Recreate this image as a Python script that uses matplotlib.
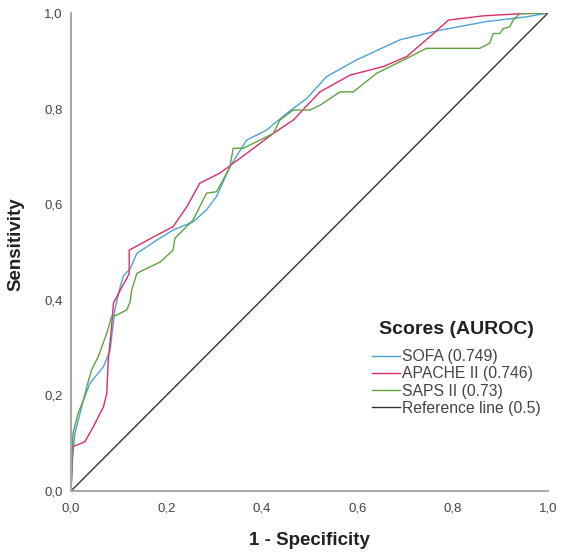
import matplotlib
matplotlib.use('Agg')
import matplotlib.pyplot as plt
from matplotlib.ticker import FuncFormatter

plt.rcParams['font.family'] = ['Liberation Sans', 'DejaVu Sans']

# ROC curve points (1 - specificity, sensitivity)
sofa_x = [0, 0.003, 0.008, 0.026, 0.04, 0.068, 0.082, 0.092, 0.103, 0.11,
          0.124, 0.138, 0.18, 0.214, 0.256, 0.284, 0.305, 0.333, 0.368,
          0.41, 0.452, 0.494, 0.536, 0.599, 0.69, 0.774, 0.871, 0.955, 1.0]
sofa_y = [0, 0.07, 0.12, 0.19, 0.226, 0.26, 0.295, 0.38, 0.427, 0.45,
          0.465, 0.497, 0.525, 0.546, 0.563, 0.588, 0.616, 0.678, 0.734,
          0.755, 0.79, 0.821, 0.867, 0.902, 0.944, 0.964, 0.982, 0.992, 1.0]

apache_x = [0, 0.004, 0.012, 0.029, 0.047, 0.068, 0.075, 0.078, 0.085,
            0.089, 0.103, 0.117, 0.122, 0.122, 0.187, 0.214, 0.243, 0.27,
            0.312, 0.368, 0.424, 0.466, 0.522, 0.585, 0.655, 0.704, 0.76,
            0.791, 0.864, 0.934, 1.0]
apache_y = [0, 0.093, 0.096, 0.103, 0.135, 0.176, 0.204, 0.274, 0.344,
            0.393, 0.42, 0.445, 0.455, 0.504, 0.539, 0.553, 0.595, 0.644,
            0.665, 0.706, 0.748, 0.776, 0.835, 0.87, 0.888, 0.909, 0.957,
            0.985, 0.994, 0.998, 1.0]

saps_x = [0, 0.004, 0.015, 0.026, 0.033, 0.043, 0.057, 0.075, 0.085, 0.096,
          0.117, 0.124, 0.127, 0.138, 0.145, 0.166, 0.187, 0.214, 0.218,
          0.256, 0.27, 0.284, 0.305, 0.319, 0.333, 0.34, 0.361, 0.396,
          0.424, 0.438, 0.466, 0.501, 0.522, 0.564, 0.592, 0.641, 0.704,
          0.745, 0.857, 0.878, 0.885, 0.899, 0.906, 0.92, 0.927, 0.941, 1.0]
saps_y = [0, 0.12, 0.163, 0.19, 0.218, 0.253, 0.281, 0.33, 0.365, 0.368,
          0.379, 0.396, 0.42, 0.455, 0.459, 0.469, 0.479, 0.504, 0.529,
          0.567, 0.595, 0.623, 0.626, 0.651, 0.678, 0.717, 0.717, 0.734,
          0.748, 0.776, 0.797, 0.797, 0.807, 0.835, 0.835, 0.874, 0.905,
          0.926, 0.926, 0.937, 0.957, 0.957, 0.967, 0.971, 0.985, 0.999, 1.0]

ref_x = [0, 1]
ref_y = [0, 1]

labels = ['SOFA (0.749)', 'APACHE II (0.746)', 'SAPS II (0.73)',
          'Reference line (0.5)']
legend_title = 'Scores (AUROC)'
ticks = [0.0, 0.2, 0.4, 0.6, 0.8, 1.0]

fig = plt.figure(figsize=(5.61, 5.57), dpi=100)
ax = fig.add_axes([0.1266, 0.1185, 0.8502, 0.8582])

ax.plot(sofa_x, sofa_y, color='#4ba2dc', lw=1.0, label=labels[0])
ax.plot(apache_x, apache_y, color='#dc2c64', lw=1.0, label=labels[1])
ax.plot(saps_x, saps_y, color='#5ea33f', lw=1.0, label=labels[2])
ax.plot(ref_x, ref_y, color='#333333', lw=1.0, label=labels[3])

ax.set_xlim(0, 1)
ax.set_ylim(0, 1)
ax.set_xticks(ticks)
ax.set_yticks(ticks)
comma = FuncFormatter(lambda v, p: f'{v:.1f}'.replace('.', ','))
ax.xaxis.set_major_formatter(comma)
ax.yaxis.set_major_formatter(comma)
ax.tick_params(length=0, labelsize=9.5, labelcolor='#444444')
ax.tick_params(axis='x', pad=8)
ax.tick_params(axis='y', pad=6)

for s in ['top', 'right']:
    ax.spines[s].set_visible(False)
for s in ['left', 'bottom']:
    ax.spines[s].set_color('#aaaaaa')
    ax.spines[s].set_linewidth(1.5)

ax.set_xlabel('1 - Specificity', fontsize=13.5, fontweight='bold',
              color='#222222')
ax.set_ylabel('Sensitivity', fontsize=13.5, fontweight='bold',
              color='#222222')
ax.xaxis.set_label_coords(0.5, -0.085)
ax.yaxis.set_label_coords(-0.098, 0.517)

# legend entries, title drawn separately so the gap matches
leg = ax.legend(loc='center', bbox_to_anchor=(0.8137, 0.3133),
                bbox_transform=fig.transFigure, frameon=False,
                fontsize=11.3, handlelength=1.75, handletextpad=0.15,
                labelspacing=0.13, borderpad=0)
for t in leg.get_texts():
    t.set_color('#444444')
fig.text(0.8137, 1 - 330 / 557, legend_title, ha='center', va='center',
         fontsize=14, fontweight='bold', color='#222222')

fig.savefig('out.png', dpi=100)
